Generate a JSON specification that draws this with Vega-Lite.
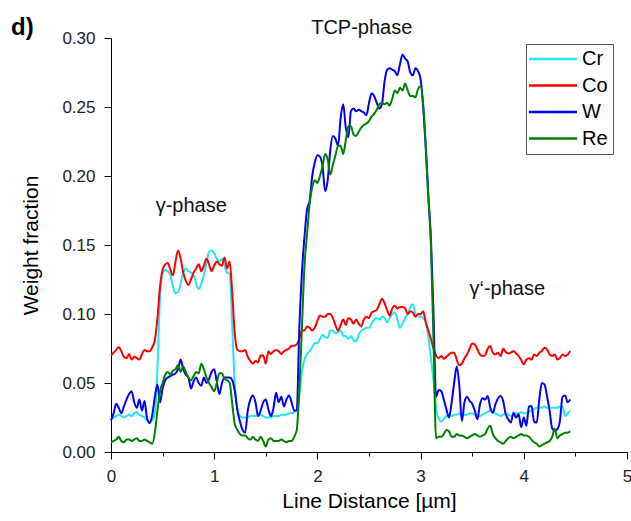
{
"$schema":"https://vega.github.io/schema/vega-lite/v6.json",
"width":516,"height":414,
"autosize":{"type":"none"},
"padding":{"left":111,"top":38,"right":4,"bottom":69},
"background":"white",
"title":{"text":"d)","anchor":"start","frame":"group","fontSize":24,"fontWeight":"bold","font":"Liberation Sans","dx":-100,"dy":26,"offset":4,"color":"black"},
"config":{"view":{"stroke":null},
"axis":{"domainColor":"black","tickColor":"black","labelFont":"Liberation Sans","labelFontSize":17,"labelColor":"#222","titleFont":"Liberation Sans","titleFontSize":21,"titleFontWeight":"normal","titleColor":"black","grid":false,"labelPadding":5,"labelOverlap":false,"labelFlush":false}},
"data":{"values":[
{"x":0,"Cr":0.024,"Co":0.070,"W":0.023,"Re":0.007},
{"x":0.025,"Cr":0.025,"Co":0.072,"W":0.028,"Re":0.008},
{"x":0.05,"Cr":0.026,"Co":0.074,"W":0.035,"Re":0.009},
{"x":0.075,"Cr":0.027,"Co":0.076,"W":0.032,"Re":0.011},
{"x":0.1,"Cr":0.026,"Co":0.073,"W":0.028,"Re":0.008},
{"x":0.125,"Cr":0.025,"Co":0.069,"W":0.033,"Re":0.007},
{"x":0.15,"Cr":0.026,"Co":0.068,"W":0.038,"Re":0.009},
{"x":0.175,"Cr":0.027,"Co":0.071,"W":0.042,"Re":0.009},
{"x":0.2,"Cr":0.026,"Co":0.067,"W":0.044,"Re":0.008},
{"x":0.225,"Cr":0.028,"Co":0.069,"W":0.036,"Re":0.009},
{"x":0.25,"Cr":0.029,"Co":0.068,"W":0.032,"Re":0.010},
{"x":0.275,"Cr":0.027,"Co":0.067,"W":0.038,"Re":0.008},
{"x":0.3,"Cr":0.026,"Co":0.071,"W":0.030,"Re":0.008},
{"x":0.325,"Cr":0.025,"Co":0.074,"W":0.037,"Re":0.009},
{"x":0.35,"Cr":0.023,"Co":0.073,"W":0.024,"Re":0.008},
{"x":0.375,"Cr":0.022,"Co":0.073,"W":0.021,"Re":0.007},
{"x":0.4,"Cr":0.023,"Co":0.076,"W":0.027,"Re":0.006},
{"x":0.425,"Cr":0.028,"Co":0.081,"W":0.040,"Re":0.014},
{"x":0.45,"Cr":0.060,"Co":0.097,"W":0.049,"Re":0.030},
{"x":0.475,"Cr":0.112,"Co":0.120,"W":0.036,"Re":0.044},
{"x":0.5,"Cr":0.129,"Co":0.132,"W":0.046,"Re":0.050},
{"x":0.525,"Cr":0.132,"Co":0.136,"W":0.052,"Re":0.056},
{"x":0.55,"Cr":0.131,"Co":0.137,"W":0.054,"Re":0.058},
{"x":0.575,"Cr":0.128,"Co":0.132,"W":0.055,"Re":0.056},
{"x":0.6,"Cr":0.120,"Co":0.128,"W":0.056,"Re":0.059},
{"x":0.625,"Cr":0.115,"Co":0.138,"W":0.057,"Re":0.060},
{"x":0.65,"Cr":0.116,"Co":0.146,"W":0.060,"Re":0.063},
{"x":0.675,"Cr":0.122,"Co":0.140,"W":0.067,"Re":0.058},
{"x":0.7,"Cr":0.130,"Co":0.130,"W":0.060,"Re":0.062},
{"x":0.725,"Cr":0.133,"Co":0.124,"W":0.056,"Re":0.058},
{"x":0.75,"Cr":0.131,"Co":0.121,"W":0.054,"Re":0.054},
{"x":0.775,"Cr":0.130,"Co":0.125,"W":0.046,"Re":0.052},
{"x":0.8,"Cr":0.128,"Co":0.130,"W":0.051,"Re":0.055},
{"x":0.825,"Cr":0.122,"Co":0.133,"W":0.054,"Re":0.058},
{"x":0.85,"Cr":0.118,"Co":0.136,"W":0.050,"Re":0.057},
{"x":0.875,"Cr":0.122,"Co":0.131,"W":0.048,"Re":0.064},
{"x":0.9,"Cr":0.128,"Co":0.135,"W":0.054,"Re":0.060},
{"x":0.925,"Cr":0.137,"Co":0.140,"W":0.050,"Re":0.054},
{"x":0.95,"Cr":0.145,"Co":0.136,"W":0.053,"Re":0.050},
{"x":0.975,"Cr":0.146,"Co":0.131,"W":0.058,"Re":0.047},
{"x":1.0,"Cr":0.144,"Co":0.135,"W":0.060,"Re":0.044},
{"x":1.025,"Cr":0.140,"Co":0.138,"W":0.051,"Re":0.050},
{"x":1.05,"Cr":0.138,"Co":0.136,"W":0.042,"Re":0.057},
{"x":1.075,"Cr":0.140,"Co":0.135,"W":0.050,"Re":0.057},
{"x":1.1,"Cr":0.135,"Co":0.141,"W":0.054,"Re":0.053},
{"x":1.125,"Cr":0.130,"Co":0.133,"W":0.054,"Re":0.052},
{"x":1.15,"Cr":0.129,"Co":0.138,"W":0.054,"Re":0.050},
{"x":1.175,"Cr":0.090,"Co":0.115,"W":0.052,"Re":0.035},
{"x":1.2,"Cr":0.048,"Co":0.085,"W":0.044,"Re":0.020},
{"x":1.225,"Cr":0.031,"Co":0.074,"W":0.030,"Re":0.016},
{"x":1.25,"Cr":0.026,"Co":0.073,"W":0.022,"Re":0.013},
{"x":1.275,"Cr":0.025,"Co":0.073,"W":0.016,"Re":0.012},
{"x":1.3,"Cr":0.025,"Co":0.074,"W":0.014,"Re":0.012},
{"x":1.325,"Cr":0.025,"Co":0.069,"W":0.030,"Re":0.010},
{"x":1.35,"Cr":0.026,"Co":0.066,"W":0.038,"Re":0.009},
{"x":1.375,"Cr":0.026,"Co":0.064,"W":0.041,"Re":0.011},
{"x":1.4,"Cr":0.026,"Co":0.066,"W":0.036,"Re":0.009},
{"x":1.425,"Cr":0.027,"Co":0.065,"W":0.026,"Re":0.008},
{"x":1.45,"Cr":0.027,"Co":0.070,"W":0.030,"Re":0.011},
{"x":1.475,"Cr":0.026,"Co":0.070,"W":0.036,"Re":0.008},
{"x":1.5,"Cr":0.025,"Co":0.064,"W":0.038,"Re":0.004},
{"x":1.525,"Cr":0.025,"Co":0.073,"W":0.031,"Re":0.009},
{"x":1.55,"Cr":0.025,"Co":0.071,"W":0.026,"Re":0.010},
{"x":1.575,"Cr":0.026,"Co":0.073,"W":0.032,"Re":0.008},
{"x":1.6,"Cr":0.026,"Co":0.074,"W":0.043,"Re":0.008},
{"x":1.625,"Cr":0.026,"Co":0.073,"W":0.036,"Re":0.008},
{"x":1.65,"Cr":0.027,"Co":0.071,"W":0.040,"Re":0.009},
{"x":1.675,"Cr":0.027,"Co":0.073,"W":0.033,"Re":0.008},
{"x":1.7,"Cr":0.027,"Co":0.074,"W":0.038,"Re":0.007},
{"x":1.725,"Cr":0.028,"Co":0.075,"W":0.041,"Re":0.008},
{"x":1.75,"Cr":0.028,"Co":0.077,"W":0.036,"Re":0.008},
{"x":1.775,"Cr":0.029,"Co":0.077,"W":0.030,"Re":0.011},
{"x":1.8,"Cr":0.030,"Co":0.078,"W":0.030,"Re":0.016},
{"x":1.825,"Cr":0.042,"Co":0.082,"W":0.090,"Re":0.045},
{"x":1.85,"Cr":0.058,"Co":0.088,"W":0.130,"Re":0.090},
{"x":1.875,"Cr":0.067,"Co":0.088,"W":0.156,"Re":0.135},
{"x":1.9,"Cr":0.071,"Co":0.091,"W":0.176,"Re":0.158},
{"x":1.925,"Cr":0.073,"Co":0.090,"W":0.182,"Re":0.180},
{"x":1.95,"Cr":0.076,"Co":0.088,"W":0.200,"Re":0.192},
{"x":1.975,"Cr":0.079,"Co":0.090,"W":0.210,"Re":0.197},
{"x":2.0,"Cr":0.079,"Co":0.095,"W":0.215,"Re":0.195},
{"x":2.025,"Cr":0.082,"Co":0.099,"W":0.214,"Re":0.200},
{"x":2.05,"Cr":0.085,"Co":0.098,"W":0.207,"Re":0.207},
{"x":2.075,"Cr":0.083,"Co":0.098,"W":0.189,"Re":0.216},
{"x":2.1,"Cr":0.083,"Co":0.100,"W":0.197,"Re":0.212},
{"x":2.125,"Cr":0.088,"Co":0.100,"W":0.219,"Re":0.201},
{"x":2.15,"Cr":0.088,"Co":0.097,"W":0.229,"Re":0.208},
{"x":2.175,"Cr":0.086,"Co":0.092,"W":0.227,"Re":0.215},
{"x":2.2,"Cr":0.087,"Co":0.088,"W":0.222,"Re":0.222},
{"x":2.225,"Cr":0.088,"Co":0.092,"W":0.242,"Re":0.222},
{"x":2.25,"Cr":0.084,"Co":0.096,"W":0.252,"Re":0.216},
{"x":2.275,"Cr":0.084,"Co":0.092,"W":0.235,"Re":0.226},
{"x":2.3,"Cr":0.082,"Co":0.097,"W":0.228,"Re":0.236},
{"x":2.325,"Cr":0.084,"Co":0.096,"W":0.247,"Re":0.236},
{"x":2.35,"Cr":0.081,"Co":0.093,"W":0.249,"Re":0.230},
{"x":2.375,"Cr":0.080,"Co":0.096,"W":0.247,"Re":0.229},
{"x":2.4,"Cr":0.085,"Co":0.093,"W":0.248,"Re":0.232},
{"x":2.425,"Cr":0.088,"Co":0.091,"W":0.247,"Re":0.235},
{"x":2.45,"Cr":0.089,"Co":0.096,"W":0.246,"Re":0.237},
{"x":2.475,"Cr":0.090,"Co":0.098,"W":0.244,"Re":0.238},
{"x":2.5,"Cr":0.090,"Co":0.097,"W":0.253,"Re":0.240},
{"x":2.525,"Cr":0.093,"Co":0.101,"W":0.260,"Re":0.243},
{"x":2.55,"Cr":0.096,"Co":0.102,"W":0.258,"Re":0.245},
{"x":2.575,"Cr":0.097,"Co":0.103,"W":0.253,"Re":0.248},
{"x":2.6,"Cr":0.096,"Co":0.107,"W":0.249,"Re":0.252},
{"x":2.625,"Cr":0.098,"Co":0.111,"W":0.252,"Re":0.253},
{"x":2.65,"Cr":0.097,"Co":0.108,"W":0.268,"Re":0.252},
{"x":2.675,"Cr":0.094,"Co":0.103,"W":0.277,"Re":0.253},
{"x":2.7,"Cr":0.097,"Co":0.099,"W":0.278,"Re":0.251},
{"x":2.725,"Cr":0.100,"Co":0.104,"W":0.277,"Re":0.256},
{"x":2.75,"Cr":0.101,"Co":0.106,"W":0.276,"Re":0.262},
{"x":2.775,"Cr":0.096,"Co":0.104,"W":0.273,"Re":0.260},
{"x":2.8,"Cr":0.090,"Co":0.105,"W":0.281,"Re":0.264},
{"x":2.825,"Cr":0.093,"Co":0.105,"W":0.288,"Re":0.262},
{"x":2.85,"Cr":0.097,"Co":0.104,"W":0.285,"Re":0.267},
{"x":2.875,"Cr":0.100,"Co":0.100,"W":0.283,"Re":0.262},
{"x":2.9,"Cr":0.105,"Co":0.102,"W":0.275,"Re":0.258},
{"x":2.925,"Cr":0.107,"Co":0.101,"W":0.273,"Re":0.258},
{"x":2.95,"Cr":0.100,"Co":0.098,"W":0.278,"Re":0.257},
{"x":2.975,"Cr":0.099,"Co":0.100,"W":0.276,"Re":0.263},
{"x":3.0,"Cr":0.098,"Co":0.100,"W":0.270,"Re":0.265},
{"x":3.025,"Cr":0.097,"Co":0.102,"W":0.250,"Re":0.252},
{"x":3.05,"Cr":0.094,"Co":0.094,"W":0.220,"Re":0.222},
{"x":3.075,"Cr":0.084,"Co":0.088,"W":0.185,"Re":0.185},
{"x":3.1,"Cr":0.068,"Co":0.082,"W":0.155,"Re":0.150},
{"x":3.125,"Cr":0.052,"Co":0.075,"W":0.100,"Re":0.080},
{"x":3.15,"Cr":0.032,"Co":0.070,"W":0.040,"Re":0.010},
{"x":3.175,"Cr":0.024,"Co":0.068,"W":0.045,"Re":0.011},
{"x":3.2,"Cr":0.022,"Co":0.0695,"W":0.044,"Re":0.011},
{"x":3.225,"Cr":0.024,"Co":0.0676,"W":0.038,"Re":0.013},
{"x":3.25,"Cr":0.026,"Co":0.069,"W":0.031,"Re":0.016},
{"x":3.275,"Cr":0.027,"Co":0.0707,"W":0.025,"Re":0.015},
{"x":3.3,"Cr":0.026,"Co":0.072,"W":0.0355,"Re":0.011},
{"x":3.325,"Cr":0.027,"Co":0.072,"W":0.050,"Re":0.011},
{"x":3.35,"Cr":0.027,"Co":0.067,"W":0.062,"Re":0.013},
{"x":3.375,"Cr":0.028,"Co":0.0628,"W":0.048,"Re":0.012},
{"x":3.4,"Cr":0.026,"Co":0.064,"W":0.0225,"Re":0.012},
{"x":3.425,"Cr":0.027,"Co":0.068,"W":0.036,"Re":0.011},
{"x":3.45,"Cr":0.027,"Co":0.0707,"W":0.040,"Re":0.010},
{"x":3.475,"Cr":0.028,"Co":0.0748,"W":0.037,"Re":0.011},
{"x":3.5,"Cr":0.028,"Co":0.0787,"W":0.035,"Re":0.012},
{"x":3.525,"Cr":0.027,"Co":0.078,"W":0.030,"Re":0.013},
{"x":3.55,"Cr":0.027,"Co":0.0744,"W":0.0237,"Re":0.012},
{"x":3.575,"Cr":0.026,"Co":0.0707,"W":0.0345,"Re":0.011},
{"x":3.6,"Cr":0.027,"Co":0.0695,"W":0.039,"Re":0.012},
{"x":3.625,"Cr":0.028,"Co":0.070,"W":0.038,"Re":0.013},
{"x":3.65,"Cr":0.029,"Co":0.0748,"W":0.0405,"Re":0.017},
{"x":3.675,"Cr":0.030,"Co":0.0768,"W":0.032,"Re":0.019},
{"x":3.7,"Cr":0.029,"Co":0.072,"W":0.0285,"Re":0.013},
{"x":3.725,"Cr":0.028,"Co":0.0707,"W":0.0345,"Re":0.010},
{"x":3.75,"Cr":0.027,"Co":0.072,"W":0.039,"Re":0.008},
{"x":3.775,"Cr":0.026,"Co":0.0695,"W":0.0405,"Re":0.007},
{"x":3.8,"Cr":0.027,"Co":0.0748,"W":0.037,"Re":0.006},
{"x":3.825,"Cr":0.028,"Co":0.0724,"W":0.0273,"Re":0.008},
{"x":3.85,"Cr":0.027,"Co":0.0714,"W":0.0237,"Re":0.010},
{"x":3.875,"Cr":0.026,"Co":0.072,"W":0.0213,"Re":0.011},
{"x":3.9,"Cr":0.027,"Co":0.0732,"W":0.0285,"Re":0.010},
{"x":3.925,"Cr":0.028,"Co":0.0714,"W":0.025,"Re":0.011},
{"x":3.95,"Cr":0.028,"Co":0.0695,"W":0.0273,"Re":0.012},
{"x":3.975,"Cr":0.029,"Co":0.0666,"W":0.018,"Re":0.013},
{"x":4.0,"Cr":0.028,"Co":0.0635,"W":0.025,"Re":0.012},
{"x":4.025,"Cr":0.028,"Co":0.067,"W":0.019,"Re":0.012},
{"x":4.05,"Cr":0.029,"Co":0.068,"W":0.033,"Re":0.011},
{"x":4.075,"Cr":0.030,"Co":0.067,"W":0.0333,"Re":0.009},
{"x":4.1,"Cr":0.031,"Co":0.0707,"W":0.022,"Re":0.007},
{"x":4.125,"Cr":0.032,"Co":0.0695,"W":0.0213,"Re":0.006},
{"x":4.15,"Cr":0.032,"Co":0.072,"W":0.038,"Re":0.004},
{"x":4.175,"Cr":0.032,"Co":0.0732,"W":0.050,"Re":0.005},
{"x":4.2,"Cr":0.033,"Co":0.0756,"W":0.049,"Re":0.006},
{"x":4.225,"Cr":0.032,"Co":0.0744,"W":0.0405,"Re":0.007},
{"x":4.25,"Cr":0.032,"Co":0.0707,"W":0.030,"Re":0.008},
{"x":4.275,"Cr":0.032,"Co":0.0695,"W":0.017,"Re":0.011},
{"x":4.3,"Cr":0.032,"Co":0.0707,"W":0.0155,"Re":0.017},
{"x":4.325,"Cr":0.032,"Co":0.067,"W":0.0165,"Re":0.010},
{"x":4.35,"Cr":0.033,"Co":0.068,"W":0.0225,"Re":0.012},
{"x":4.375,"Cr":0.033,"Co":0.0707,"W":0.040,"Re":0.013},
{"x":4.4,"Cr":0.026,"Co":0.0695,"W":0.041,"Re":0.014},
{"x":4.425,"Cr":0.028,"Co":0.0707,"W":0.036,"Re":0.014},
{"x":4.45,"Cr":0.030,"Co":0.0732,"W":0.038,"Re":0.015}
]},
"layer":[
{"mark":{"type":"line","strokeWidth":2,"interpolate":"monotone"},
 "encoding":{
  "x":{"field":"x","type":"quantitative","title":"Line Distance [µm]","scale":{"domain":[0,5],"nice":false},
   "axis":{"values":[0,0.5,1,1.5,2,2.5,3,3.5,4,4.5,5],"labelExpr":"datum.value % 1 == 0 ? format(datum.value,'d') : ''","tickSize":{"condition":{"test":"datum.value % 1 != 0","value":4},"value":7},"labelPadding":9,"titlePadding":6,"labelFlush":false}},
  "y":{"field":"Cr","type":"quantitative","title":"Weight fraction","scale":{"domain":[0,0.3],"nice":false},
   "axis":{"values":[0,0.025,0.05,0.075,0.1,0.125,0.15,0.175,0.2,0.225,0.25,0.275,0.3],"labelExpr":"round(datum.value*1000) % 50 == 0 ? format(datum.value,'.2f') : ''","tickSize":{"condition":{"test":"round(datum.value*1000) % 50 != 0","value":4},"value":7},"labelPadding":9,"titlePadding":20,"labelFlush":false}},
  "color":{"datum":"Cr","type":"nominal","scale":{"domain":["Cr","Co","W","Re"],"range":["#20E8F0","#FF0000","#0000FF","#008000"]},
   "legend":{"orient":"none","legendX":415,"legendY":6,"title":null,"symbolType":"M -2.4 0 L 7.2 0","symbolSize":100,"symbolStrokeWidth":2.5,"labelFont":"Liberation Sans","labelFontSize":20,"labelColor":"black","labelOffset":31,"strokeColor":"#555","fillColor":"white","padding":5,"rowPadding":6.5}}}},
{"mark":{"type":"line","strokeWidth":2,"interpolate":"monotone"},
 "encoding":{"x":{"field":"x","type":"quantitative","title":"Line Distance [µm]"},"y":{"field":"Co","type":"quantitative","title":"Weight fraction"},"color":{"datum":"Co","type":"nominal"}}},
{"mark":{"type":"line","strokeWidth":2,"interpolate":"monotone"},
 "encoding":{"x":{"field":"x","type":"quantitative","title":"Line Distance [µm]"},"y":{"field":"W","type":"quantitative","title":"Weight fraction"},"color":{"datum":"W","type":"nominal"}}},
{"mark":{"type":"line","strokeWidth":2,"interpolate":"monotone"},
 "encoding":{"x":{"field":"x","type":"quantitative","title":"Line Distance [µm]"},"y":{"field":"Re","type":"quantitative","title":"Weight fraction"},"color":{"datum":"Re","type":"nominal"}}},
{"data":{"values":[{"px":2.43,"py":0.3075,"label":"TCP-phase"},{"px":0.778,"py":0.178,"label":"γ-phase"},{"px":3.84,"py":0.118,"label":"γ‘-phase"}]},
 "mark":{"type":"text","font":"Liberation Sans","fontSize":20,"color":"#111","align":"center","baseline":"middle","clip":false},
 "encoding":{"x":{"field":"px","type":"quantitative","title":"Line Distance [µm]"},"y":{"field":"py","type":"quantitative","title":"Weight fraction"},"text":{"field":"label"}}}
]
}
